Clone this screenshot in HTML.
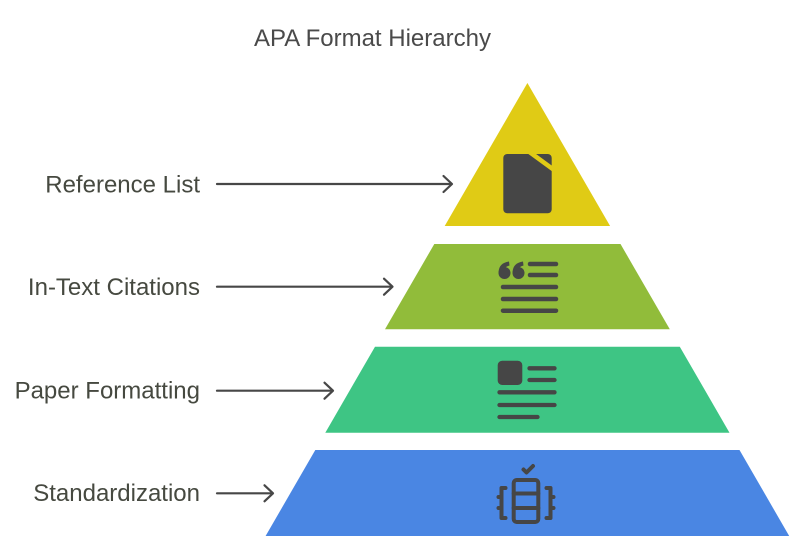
<!DOCTYPE html>
<html>
<head>
<meta charset="utf-8">
<style>
html,body{margin:0;padding:0;background:#fff;}
svg{display:block;}
text{font-family:"Liberation Sans",Arial,sans-serif;}
</style>
</head>
<body>
<svg width="800" height="540" viewBox="0 0 800 540" xmlns="http://www.w3.org/2000/svg">
  <rect width="800" height="540" fill="#fff"/>
  <!-- Title -->
  <text x="254" y="46" font-size="24" fill="#4a4a4a">APA Format Hierarchy</text>

  <!-- Pyramid layers -->
  <polygon points="527.4,83 610.1,226 444.7,226" fill="#E0CB15"/>
  <polygon points="434.3,244 620.5,244 669.8,329.3 385,329.3" fill="#91BC3A"/>
  <polygon points="375,346.7 679.8,346.7 729.5,432.7 325.3,432.7" fill="#3EC584"/>
  <polygon points="315.3,450 739.5,450 789.2,536 265.6,536" fill="#4A86E3"/>

  <!-- Labels -->
  <g font-size="24" fill="#464940" text-anchor="end">
    <text x="200" y="192.3">Reference List</text>
    <text x="200" y="295">In-Text Citations</text>
    <text x="200" y="398.3">Paper Formatting</text>
    <text x="200" y="501">Standardization</text>
  </g>

  <!-- Arrows -->
  <g stroke="#474747" stroke-width="2.2" fill="none" stroke-linecap="round" stroke-linejoin="round">
    <line x1="217" y1="184" x2="451.5" y2="184"/>
    <polyline points="443.5,176 452,184 443.5,192"/>
    <line x1="217" y1="286.7" x2="392" y2="286.7"/>
    <polyline points="384,278.7 392.5,286.7 384,294.7"/>
    <line x1="217" y1="390.7" x2="332.5" y2="390.7"/>
    <polyline points="324.5,382.7 333,390.7 324.5,398.7"/>
    <line x1="217" y1="493.3" x2="272.5" y2="493.3"/>
    <polyline points="264.5,485.3 273,493.3 264.5,501.3"/>
  </g>

  <!-- Doc icon (Reference List) -->
  <rect x="503.3" y="154" width="48.4" height="59.3" rx="4" fill="#464646"/>
  <line x1="529.5" y1="152" x2="554.5" y2="170.3" stroke="#E0CB15" stroke-width="4.5"/>

  <!-- Quote icon (In-Text Citations) -->
  <g fill="#464646">
    <circle cx="504.5" cy="273" r="6"/>
    <path d="M498.6,272 Q499,263 509,261.5 L509.5,265.5 Q504,266.8 503.5,272 Z"/>
    <circle cx="518.5" cy="273" r="6"/>
    <path d="M512.6,272 Q513,263 523,261.5 L523.5,265.5 Q518,266.8 517.5,272 Z"/>
  </g>
  <g stroke="#464646" stroke-width="4.5" stroke-linecap="round">
    <line x1="530" y1="264" x2="556" y2="264"/>
    <line x1="530" y1="275" x2="556" y2="275"/>
    <line x1="503" y1="287" x2="556" y2="287"/>
    <line x1="503" y1="299" x2="556" y2="299"/>
    <line x1="503" y1="310.7" x2="556" y2="310.7"/>
  </g>

  <!-- Paper formatting icon -->
  <rect x="497.7" y="360.7" width="24.6" height="24.3" rx="4.5" fill="#464646"/>
  <g stroke="#464646" stroke-width="4.3" stroke-linecap="round">
    <line x1="529.5" y1="368.3" x2="554.5" y2="368.3"/>
    <line x1="529.5" y1="380" x2="554.5" y2="380"/>
    <line x1="499.5" y1="392.3" x2="554.5" y2="392.3"/>
    <line x1="499.5" y1="405" x2="554.5" y2="405"/>
    <line x1="499.5" y1="417" x2="537.5" y2="417"/>
  </g>

  <!-- Standardization icon -->
  <g stroke="#464646" stroke-width="4" fill="none" stroke-linecap="round" stroke-linejoin="round">
    <polyline points="523.5,469.5 526.5,472.5 533,466"/>
    <rect x="513.7" y="480" width="24.6" height="42" rx="3"/>
    <line x1="513.7" y1="493.5" x2="538.3" y2="493.5"/>
    <line x1="513.7" y1="508" x2="538.3" y2="508"/>
    <polyline points="505.5,488 501.5,488 501.5,518 505.5,518"/>
    <line x1="498.5" y1="497" x2="501.5" y2="497"/>
    <line x1="498.5" y1="508" x2="501.5" y2="508"/>
    <polyline points="546.5,488 550.5,488 550.5,518 546.5,518"/>
    <line x1="550.5" y1="497" x2="553.5" y2="497"/>
    <line x1="550.5" y1="508" x2="553.5" y2="508"/>
  </g>
</svg>
</body>
</html>
